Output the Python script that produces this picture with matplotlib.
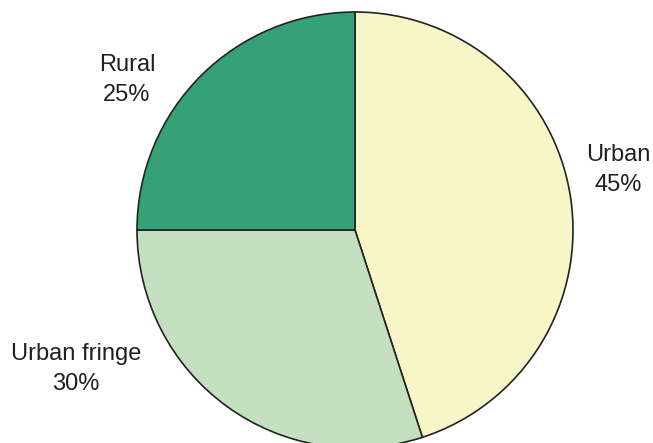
import matplotlib
matplotlib.use("Agg")
import matplotlib.pyplot as plt

labels = ["Urban", "Urban fringe", "Rural"]
shares = [45, 30, 25]
colors = ["#F8F6C7", "#C4E0C0", "#35A177"]

# label anchor points in pixel coordinates (y measured upward)
label_pos = {"Urban": (618, 273), "Urban fringe": (76, 74), "Rural": (127, 363)}

fig = plt.figure(figsize=(6.53, 4.43), dpi=100)
ax = fig.add_axes([0, 0, 1, 1])
ax.set_xlim(0, 653)
ax.set_ylim(0, 443)
ax.set_aspect("equal")
ax.axis("off")

ax.pie(shares, colors=colors, startangle=90, counterclock=False,
       center=(355, 213), radius=218,
       wedgeprops=dict(edgecolor="#222222", linewidth=1.2))
ax.set_xlim(0, 653)
ax.set_ylim(0, 443)

for name, val in zip(labels, shares):
    x, y = label_pos[name]
    ax.text(x, y, f"{name}\n{val}%", ha="center", va="center",
            multialignment="center", fontsize=17, linespacing=1.42,
            family="Liberation Sans", color="#231F20")

fig.savefig("out.png", dpi=100)
